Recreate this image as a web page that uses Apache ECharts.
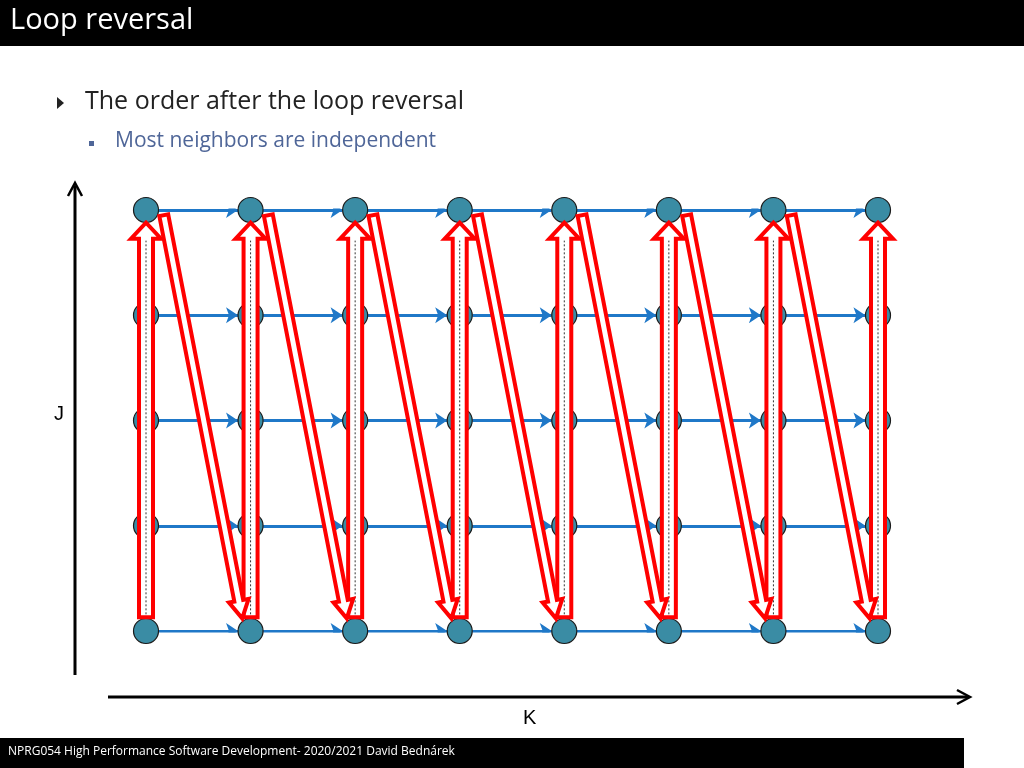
<!DOCTYPE html>
<html><head><meta charset="utf-8">
<script src="https://cdn.jsdelivr.net/npm/echarts@6/dist/echarts.min.js"></script>
<style>html,body{margin:0;padding:0;background:#fff}#c{width:1024px;height:768px}</style>
</head><body><div id="c"></div>
<script>
var cols = [0, 1, 2, 3, 4, 5, 6, 7];
var rows = [0, 1, 2, 3, 4];
var title = 'Loop reversal';
var bullet = 'The order after the loop reversal';
var subBullet = 'Most neighbors are independent';
var footer = 'NPRG054 High Performance Software Development- 2020/2021 David Bednárek';

var nodes = [];
cols.forEach(function (k) { rows.forEach(function (j) { nodes.push([k, j]); }); });
var blue = [];
rows.forEach(function (j) {
  cols.slice(0, -1).forEach(function (k) { blue.push({ coords: [[k + 0.12, j], [k + 0.88, j]] }); });
});
// red arrows: up each column, diagonal down to next column
var ups = cols.map(function (k) { return [k, 0.13, k, 3.88]; });
var diags = cols.slice(0, -1).map(function (k) { return [k + 0.17, 3.95, k + 0.92, 0.12]; });

function arrowShape(p1, p2, sw, hw, hl) {
  var dx = p2[0] - p1[0], dy = p2[1] - p1[1];
  var L = Math.sqrt(dx * dx + dy * dy), ux = dx / L, uy = dy / L, nx = -uy, ny = ux;
  var n = [p2[0] - ux * hl, p2[1] - uy * hl];
  return [
    [p1[0] + nx * sw, p1[1] + ny * sw], [n[0] + nx * sw, n[1] + ny * sw],
    [n[0] + nx * hw, n[1] + ny * hw], p2,
    [n[0] - nx * hw, n[1] - ny * hw], [n[0] - nx * sw, n[1] - ny * sw],
    [p1[0] - nx * sw, p1[1] - ny * sw]
  ];
}

var chart = echarts.init(document.getElementById('c'), null, { renderer: 'canvas' });
chart.setOption({
  animation: false,
  grid: { left: 146, top: 210, width: 732, height: 421 },
  xAxis: { type: 'value', min: 0, max: 7, show: false },
  yAxis: { type: 'value', min: 0, max: 4, show: false },
  graphic: [
    { type: 'rect', shape: { x: 0, y: 0, width: 1024, height: 46 }, style: { fill: '#000' } },
    { type: 'text', left: 10, top: 6, style: { text: title, fill: '#fff', font: '29px "Open Sans", sans-serif' } },
    { type: 'polygon', shape: { points: [[57, 97], [64, 103], [57, 109]] }, style: { fill: '#222' } },
    { type: 'text', left: 85, top: 89, style: { text: bullet, fill: '#222', font: '25px "Open Sans", sans-serif' } },
    { type: 'rect', shape: { x: 89, y: 141, width: 5, height: 5 }, style: { fill: '#4f6698' } },
    { type: 'text', left: 115, top: 131, style: { text: subBullet, fill: '#4f6698', font: '21px "Open Sans", sans-serif' } },
    { type: 'line', shape: { x1: 75, y1: 675, x2: 75, y2: 186 }, style: { stroke: '#000', lineWidth: 3 } },
    { type: 'polyline', shape: { points: [[68, 196], [75, 183], [82, 196]] }, style: { stroke: '#000', lineWidth: 2.5, fill: null } },
    { type: 'line', shape: { x1: 108, y1: 697, x2: 968, y2: 697 }, style: { stroke: '#000', lineWidth: 3 } },
    { type: 'polyline', shape: { points: [[957, 690], [970, 697], [957, 704]] }, style: { stroke: '#000', lineWidth: 2.5, fill: null } },
    { type: 'text', left: 54, top: 404, style: { text: 'J', fill: '#000', font: '20px "Liberation Sans", sans-serif' } },
    { type: 'text', left: 523, top: 708, style: { text: 'K', fill: '#000', font: '20px "Liberation Sans", sans-serif' } },
    { type: 'rect', shape: { x: 0, y: 738, width: 964, height: 30 }, style: { fill: '#000' } },
    { type: 'text', left: 8, top: 746, style: { text: footer, fill: '#fff', font: '12px "Open Sans", sans-serif' } }
  ],
  series: [
    {
      type: 'lines', coordinateSystem: 'cartesian2d', data: blue,
      symbol: ['none', 'arrow'], symbolSize: 12,
      lineStyle: { color: '#1f78c8', width: 3, opacity: 1 }, z: 2
    },
    {
      type: 'scatter', data: nodes, symbolSize: 25,
      itemStyle: { color: '#3a8ca4', borderColor: '#1a1a1a', borderWidth: 1.2, opacity: 1 }, z: 3
    },
    {
      type: 'custom', data: ups, z: 4,
      renderItem: function (params, api) {
        var a = api.coord([api.value(0), api.value(1)]), b = api.coord([api.value(2), api.value(3)]);
        return { type: 'group', children: [
          { type: 'polygon', shape: { points: arrowShape(a, b, 7, 15, 16) }, style: { fill: '#fff', stroke: '#ff0000', lineWidth: 4 } },
          { type: 'line', shape: { x1: a[0], y1: a[1] - 3, x2: b[0], y2: b[1] + 18 }, style: { stroke: '#333', lineWidth: 1, lineDash: [2, 2] } }
        ] };
      }
    },
    {
      type: 'custom', data: diags, z: 4,
      renderItem: function (params, api) {
        var a = api.coord([api.value(0), api.value(1)]), b = api.coord([api.value(2), api.value(3)]);
        return { type: 'polygon', shape: { points: arrowShape(a, b, 4.5, 10, 18) }, style: { fill: '#fff', stroke: '#ff0000', lineWidth: 4 } };
      }
    }
  ]
});
</script></body></html>
